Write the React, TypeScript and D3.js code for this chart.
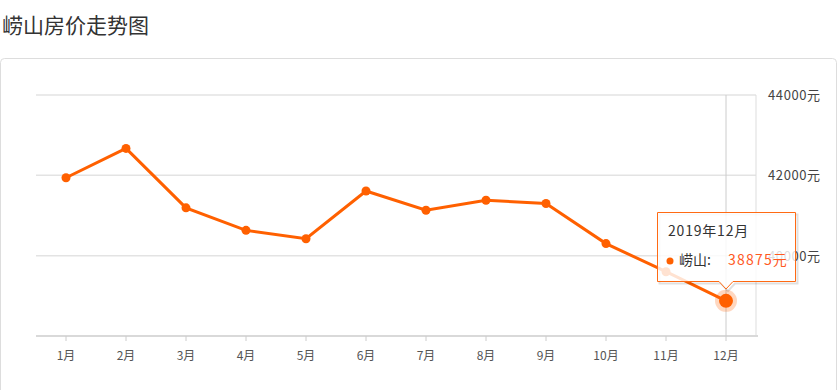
import React, { useEffect, useRef } from 'react';
import * as d3 from 'd3';

const months = ['1月', '2月', '3月', '4月', '5月', '6月', '7月', '8月', '9月', '10月', '11月', '12月'];
const prices = [41940, 42670, 41190, 40630, 40420, 41610, 41130, 41380, 41300, 40300, 39600, 38875];
const yTicks = [40000, 42000, 44000];
const seriesName = '崂山';
const tipTitle = '2019年12月';

const FONT = '"Noto Sans CJK SC", "Noto Sans", sans-serif';
const ORANGE = '#ff6000';

const App = () => {
  const ref = useRef<SVGSVGElement | null>(null);

  useEffect(() => {
    const svg = d3.select(ref.current);
    svg.selectAll('*').remove();

    const left = 36, right = 756, top = 95, bottom = 336;

    const x = d3.scaleBand().domain(months).range([left, right]);
    const y = d3.scaleLinear().domain([38000, 44000]).range([bottom, top]);
    const cx = (m: string) => (x(m) as number) + x.bandwidth() / 2;

    // title
    svg.append('text')
      .attr('x', 2).attr('y', 33)
      .attr('font-size', 21).attr('fill', '#333')
      .style('font-family', FONT)
      .text('崂山房价走势图');

    // outer card
    svg.append('rect')
      .attr('x', 0.5).attr('y', 58.5).attr('width', 836).attr('height', 360)
      .attr('rx', 4).attr('fill', 'none').attr('stroke', '#ddd');

    // grid
    svg.append('g').selectAll('line')
      .data(yTicks)
      .join('line')
      .attr('x1', left).attr('x2', right)
      .attr('y1', d => y(d)).attr('y2', d => y(d))
      .attr('stroke', '#e3e3e3').attr('stroke-width', 1.5);

    svg.append('line')
      .attr('x1', right).attr('x2', right).attr('y1', top).attr('y2', bottom)
      .attr('stroke', '#ddd');

    // y labels on the right
    svg.append('g').selectAll('text')
      .data(yTicks)
      .join('text')
      .attr('x', 768).attr('y', d => y(d) + 5)
      .attr('font-size', 13).attr('fill', '#444')
      .attr('letter-spacing', 0.6)
      .style('font-family', FONT)
      .text(d => `${d}元`);

    // x axis
    svg.append('line')
      .attr('x1', left).attr('x2', right + 2).attr('y1', bottom).attr('y2', bottom)
      .attr('stroke', '#d9d9d9').attr('stroke-width', 2);

    svg.append('g').selectAll('line')
      .data(months)
      .join('line')
      .attr('x1', d => cx(d)).attr('x2', d => cx(d))
      .attr('y1', bottom).attr('y2', bottom + 5)
      .attr('stroke', '#ccc');

    svg.append('g').selectAll('text')
      .data(months)
      .join('text')
      .attr('x', d => cx(d)).attr('y', 360)
      .attr('text-anchor', 'middle')
      .attr('font-size', 12).attr('fill', '#555')
      .style('font-family', FONT)
      .text(d => d);

    // crosshair
    const last = months[months.length - 1];
    svg.append('line')
      .attr('x1', cx(last)).attr('x2', cx(last)).attr('y1', top).attr('y2', bottom)
      .attr('stroke', '#ccc');

    // line + points
    const line = d3.line<number>()
      .x((_, i) => cx(months[i]))
      .y(d => y(d));

    svg.append('path')
      .datum(prices)
      .attr('d', line)
      .attr('fill', 'none')
      .attr('stroke', ORANGE)
      .attr('stroke-width', 3);

    svg.append('g').selectAll('circle')
      .data(prices.slice(0, -1))
      .join('circle')
      .attr('cx', (_, i) => cx(months[i])).attr('cy', d => y(d))
      .attr('r', 4.5).attr('fill', ORANGE);

    const lastV = prices[prices.length - 1];
    svg.append('circle')
      .attr('cx', cx(last)).attr('cy', y(lastV)).attr('r', 11)
      .attr('fill', ORANGE).attr('opacity', 0.25);
    svg.append('circle')
      .attr('cx', cx(last)).attr('cy', y(lastV)).attr('r', 7)
      .attr('fill', ORANGE);

    // tooltip
    const tx = 657, ty = 212, tw = 139, th = 70;
    const ax = cx(last);
    const tipPath = `M${tx + 0.5},${ty + 0.5} H${tx + tw - 0.5} V${ty + th - 0.5} H${ax + 7} L${ax},${ty + th + 7} L${ax - 7},${ty + th - 0.5} H${tx + 0.5} Z`;
    const tip = svg.append('g');
    // soft shadow
    tip.append('path')
      .attr('d', tipPath)
      .attr('transform', 'translate(2,2)')
      .attr('fill', 'none')
      .attr('stroke', 'rgba(0,0,0,0.12)')
      .attr('stroke-width', 2);
    tip.append('path')
      .attr('d', tipPath)
      .attr('fill', 'rgba(255,255,255,0.82)')
      .attr('stroke', '#ff6a13')
      .attr('stroke-linejoin', 'round');
    tip.append('text')
      .attr('x', 668).attr('y', 236)
      .attr('font-size', 14).attr('fill', '#333')
      .attr('letter-spacing', 0.8)
      .style('font-family', FONT)
      .text(tipTitle);
    tip.append('circle')
      .attr('cx', 670).attr('cy', 261).attr('r', 3.5).attr('fill', ORANGE);
    tip.append('text')
      .attr('x', 679).attr('y', 265)
      .attr('font-size', 14).attr('fill', '#333')
      .style('font-family', FONT)
      .text(`${seriesName}:`);
    tip.append('text')
      .attr('x', 728).attr('y', 265)
      .attr('font-size', 14).attr('fill', '#ff5a1f')
      .attr('letter-spacing', 1.2)
      .style('font-family', FONT)
      .text(`${lastV}元`);
  }, []);

  return (
    <div style={{ position: 'absolute', left: 0, top: 0 }}>
      <svg ref={ref} width={840} height={390} style={{ display: 'block' }} />
    </div>
  );
};

export default App;
